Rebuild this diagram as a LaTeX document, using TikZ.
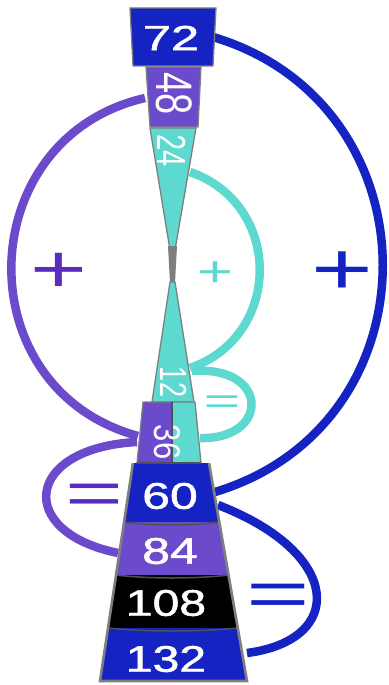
\documentclass[tikz,border=0pt]{standalone}
\usepackage{fontspec}
\setmainfont{Liberation Sans}
\newfontface\numface[FakeBold=1.2]{Liberation Sans}
\usepackage{xcolor}
\usetikzlibrary{positioning,calc}

\definecolor{ringblue}{HTML}{1423C2}
\definecolor{ringpurple}{HTML}{6B4ACB}
\definecolor{ringcyan}{HTML}{5DD9D0}
\definecolor{signpurple}{HTML}{5A2DBF}
\definecolor{rimgray}{HTML}{7F7F7F}
\definecolor{sepgray}{HTML}{505050}

\begin{document}
\begin{tikzpicture}[x=1pt, y=-1pt,
    glass/.style={draw=rimgray, line width=1.3pt, line join=round},
    num/.style={text=white, inner sep=0pt, font=\fontsize{37}{37}\numface},
    vnum/.style={text=white, inner sep=0pt, rotate=-90},
    ring/.style={line width=8.5pt},
    sign/.style={inner sep=0pt}
]
    \useasboundingbox (0,0) rectangle (388,685);

    % Ring ends on the glass
    \coordinate (r72) at (213,37);
    \coordinate (r60) at (215,492);
    \coordinate (l48) at (145,98);
    \coordinate (l36) at (138,436);
    \coordinate (r24) at (190,172);
    \coordinate (r12a) at (190,368);
    \coordinate (r12b) at (192,371);
    \coordinate (r36) at (200,438);
    \coordinate (l36b) at (137,442);
    \coordinate (l84) at (118,553);
    \coordinate (r60b) at (218,505);
    \coordinate (r132) at (247,653);

    % Rings (drawn behind the glass)
    \draw[ring, ringblue] (r72) .. controls +(225,67) and +(225,-68) .. (r60);
    \draw[ring, ringpurple] (l48) .. controls +(-174,40) and +(-173,-47) .. (l36);
    \draw[ring, ringcyan] (r24) .. controls +(93,32) and +(93,-32) .. (r12a);
    \draw[ring, ringcyan] (r12b) .. controls +(78,-6) and +(70,2) .. (r36);
    \draw[ring, ringpurple] (l36b) .. controls +(-113,6) and +(-103,-21) .. (l84);
    \draw[ring, ringblue] (r60b) .. controls +(125,48) and +(99,-13) .. (r132);

    % Upper glass
    \fill[ringblue, glass] (130,8) -- (216,8) -- (213,66) -- (133,66) -- cycle;
    \fill[ringpurple, glass] (146,67) -- (201,67) -- (198,127) -- (150,127) -- cycle;
    \fill[ringcyan, glass] (150,128) -- (196,128) -- (175,250) -- (170,250) -- cycle;

    % Neck
    \fill[rimgray] (168,246) -- (177,246) -- (175,283) -- (170,283) -- cycle;

    % Lower glass
    \fill[ringcyan, glass] (170,282) -- (175,282) -- (194,402) -- (152,402) -- cycle;
    \fill[ringpurple, glass] (143,402) -- (172,402) -- (172,463) -- (137,463) -- cycle;
    \fill[ringcyan, glass] (172,402) -- (195,402) -- (201,463) -- (172,463) -- cycle;
    \draw[sepgray, line width=1.2pt] (172,402) -- (172,463);

    % Base stack
    \fill[ringblue] (133,463) -- (209,463) -- (219,522) -- (124,522) -- cycle;
    \fill[ringpurple] (124,522) -- (219,522) -- (229,575) -- (116,575) -- cycle;
    \fill[black] (116,575) -- (229,575) -- (238,628) -- (108,628) -- cycle;
    \fill[ringblue] (108,628) -- (238,628) -- (247,681) -- (100,681) -- cycle;
    \draw[sepgray, line width=1.5pt] (137,463) -- (201,463);
    \draw[sepgray, line width=1.5pt] (124,522) .. controls (155,526) and (188,526) .. (219,522);
    \draw[sepgray, line width=1.5pt] (116,575) .. controls (150,579) and (195,579) .. (229,575);
    \draw[sepgray, line width=1.5pt] (108,628) .. controls (145,632) and (200,632) .. (238,628);
    \draw[rimgray, line width=2.6pt] (133,463) -- (100,681) -- (247,681) -- (209,463);

    % Numbers
    \node[num, font=\fontsize{35}{35}\numface] (n72) at (171,38) {\scalebox{1.45}[1]{72}};
    \node[vnum, font=\fontsize{38}{38}\selectfont] (n48) at (174,94) {\scalebox{1}[1.35]{48}};
    \node[vnum, font=\fontsize{29}{29}\selectfont] (n24) at (172,151) {\scalebox{1}[1.4]{24}};
    \node[vnum, font=\fontsize{27}{27}\selectfont] (n12) at (174,382) {\scalebox{1}[1.4]{12}};
    \node[vnum, font=\fontsize{31}{31}\selectfont] (n36) at (167,442) {\scalebox{1}[1.2]{36}};
    \node[num] (n60) at (170,496) {\scalebox{1.35}[1]{60}};
    \node[num] (n84) at (170,551) {\scalebox{1.35}[1]{84}};
    \node[num] (n108) at (166,603) {\scalebox{1.3}[1]{108}};
    \node[num] (n132) at (166,659) {\scalebox{1.3}[1]{132}};

    % Signs
    \node[sign, text=signpurple, font=\fontsize{68}{68}\selectfont] (plusl) at (59,273) {\scalebox{1.43}[1]{+}};
    \node[sign, text=ringcyan, font=\fontsize{43}{43}\selectfont] (plusm) at (215,274) {\scalebox{1.43}[1]{+}};
    \node[sign, text=ringblue, font=\fontsize{74}{74}\selectfont] (plusr) at (342,273) {\scalebox{1.43}[1]{+}};
    \node[sign, text=signpurple, font=\fontsize{62}{62}\selectfont] (eql) at (94,499) {\scalebox{1.6}[1]{=}};
    \node[sign, text=ringcyan, font=\fontsize{36}{36}\selectfont] (eqm) at (222,405) {\scalebox{1.75}[1]{=}};
    \node[sign, text=ringblue, font=\fontsize{66}{66}\selectfont] (eqr) at (278,600) {\scalebox{1.65}[1]{=}};
\end{tikzpicture}
\end{document}
